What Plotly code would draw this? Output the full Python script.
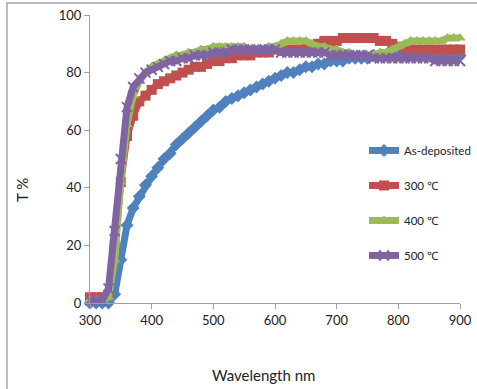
import plotly.graph_objects as go

wavelength = list(range(300, 901, 10))

as_deposited = [0, 0, 0, 0, 3, 15, 27, 33, 37, 41,
                44, 47, 50, 52, 55, 57, 59, 61, 63, 65,
                67, 68, 70, 71, 72, 73, 74, 75, 76, 77,
                78, 79, 80, 80, 81, 82, 82, 83, 83, 84,
                84, 84, 85, 85, 85, 85, 86, 86, 86, 87,
                87, 87, 87, 87, 87, 87, 87, 86, 86, 86,
                86]
t300 = [2, 2, 2, 3, 20, 42, 58, 65, 70, 72,
        74, 76, 77, 78, 79, 80, 81, 82, 82, 83,
        84, 84, 85, 85, 86, 86, 86, 87, 87, 87,
        88, 88, 88, 88, 88, 89, 89, 90, 91, 91,
        91, 92, 92, 92, 92, 92, 92, 91, 91, 90,
        89, 88, 88, 88, 88, 88, 88, 88, 88, 88,
        88]
t400 = [1, 1, 1, 2, 15, 42, 62, 72, 77, 80,
        82, 83, 84, 85, 86, 86, 87, 87, 88, 88,
        89, 89, 89, 89, 89, 89, 88, 88, 88, 89,
        89, 90, 91, 91, 91, 91, 90, 89, 89, 88,
        88, 87, 87, 86, 86, 86, 86, 87, 87, 88,
        89, 90, 91, 91, 91, 91, 91, 91, 92, 92,
        92]
t500 = [1, 1, 1, 5, 25, 50, 68, 75, 78, 80,
        81, 82, 83, 84, 84, 85, 85, 86, 86, 86,
        87, 87, 87, 88, 88, 88, 88, 88, 88, 88,
        88, 87, 87, 87, 87, 87, 87, 87, 87, 86,
        86, 86, 86, 86, 86, 86, 85, 85, 85, 85,
        85, 85, 85, 85, 85, 85, 84, 84, 84, 84,
        84]

series_names = ["As-deposited", "300 ℃", "400 ℃", "500 ℃"]
series_values = [as_deposited, t300, t400, t500]
colors = ["#4F81BD", "#C0504D", "#9BBB59", "#8064A2"]
symbols = ["diamond", "square", "triangle-up", "x-thin"]

x_ticks = [300, 400, 500, 600, 700, 800, 900]
y_ticks = [0, 20, 40, 60, 80, 100]

fig = go.Figure()
for i, (name, vals) in enumerate(zip(series_names, series_values)):
    marker = dict(symbol=symbols[i], size=10, color=colors[i])
    if symbols[i] == "x-thin":
        marker["line"] = dict(color=colors[i], width=2)
    fig.add_trace(go.Scatter(
        x=wavelength, y=vals, name=name, mode="lines+markers",
        line=dict(color=colors[i], width=7), marker=marker,
        legendgroup=f"g{i}", cliponaxis=False,
    ))

font_family = "Lato, Liberation Sans, sans-serif"

fig.update_layout(
    width=477, height=389,
    margin=dict(l=90, r=17, t=15, b=86, autoexpand=False),
    paper_bgcolor="white", plot_bgcolor="white",
    font=dict(family=font_family, size=13, color="#222222"),
    showlegend=True,
    legend=dict(x=(364 - 90) / 370, y=0.58, xanchor="left", yanchor="top",
                bgcolor="rgba(0,0,0,0)", font=dict(size=11.5, color="#222222"),
                tracegroupgap=16, traceorder="grouped", itemwidth=30),
    xaxis=dict(range=[300, 900], tickvals=x_ticks, showgrid=False, zeroline=False,
               showline=True, linecolor="#a0a0a0", linewidth=1,
               ticks="outside", ticklen=5, tickcolor="#a0a0a0",
               tickfont=dict(size=13, color="#222222")),
    yaxis=dict(range=[0, 100], tickvals=y_ticks, showgrid=False, zeroline=False,
               showline=True, linecolor="#a0a0a0", linewidth=1,
               ticks="outside", ticklen=5, tickcolor="#a0a0a0",
               tickfont=dict(size=13, color="#222222")),
    annotations=[
        dict(text="Wavelength nm", xref="paper", yref="paper",
             x=(263 - 90) / 370, y=(303 - 375) / 288, xanchor="center", yanchor="middle",
             showarrow=False, font=dict(size=15, color="#222222")),
        dict(text="T %", xref="paper", yref="paper",
             x=(22 - 90) / 370, y=(303 - 190) / 288, xanchor="center", yanchor="middle",
             showarrow=False, textangle=-90, font=dict(size=15, color="#222222")),
    ],
    shapes=[
        dict(type="rect", xref="paper", yref="paper",
             x0=(7 - 90) / 370, x1=(485 - 90) / 370,
             y0=(303 - 395) / 288, y1=(303 - 3) / 288,
             line=dict(color="#a6a6a6", width=1.5)),
    ],
)

fig.write_html("out.html")
